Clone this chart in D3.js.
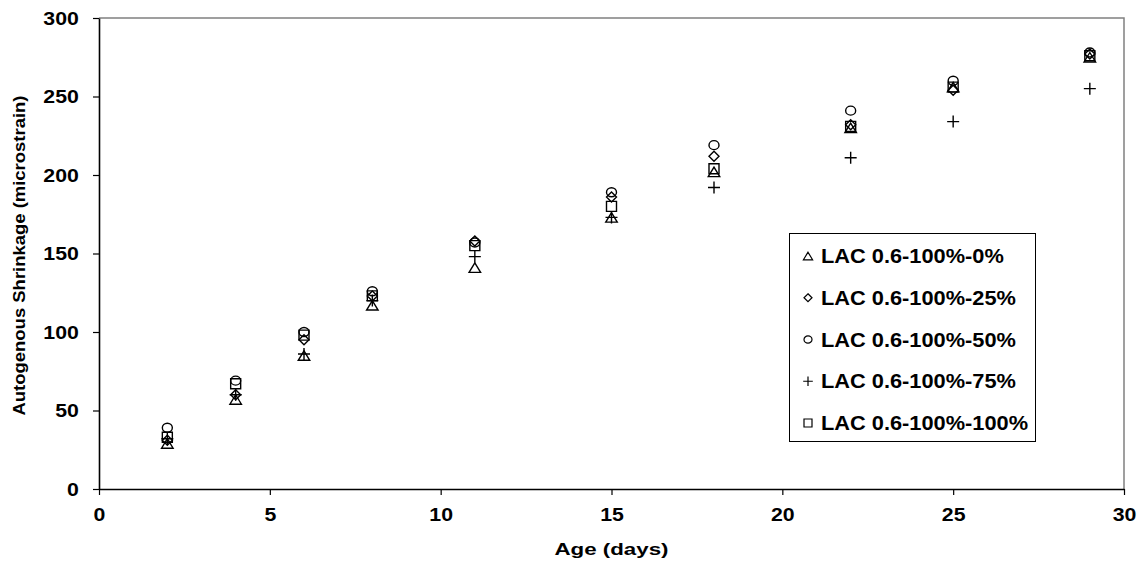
<!DOCTYPE html>
<html>
<head>
<meta charset="utf-8">
<script src="https://cdn.jsdelivr.net/npm/d3@7"></script>
<style>
  html, body { margin: 0; padding: 0; background: #fff; }
  svg { display: block; font-family: "Liberation Sans", Arial, sans-serif; }
</style>
</head>
<body>
<svg id="chart" width="1140" height="562"></svg>
<script>
const days = [2, 4, 6, 8, 11, 15, 18, 22, 25, 29];
const lac0   = [29, 57, 85, 117, 141, 173, 202, 230, 256, 275];
const lac25  = [31, 60, 95, 123, 158, 186, 212, 232, 254, 277];
const lac50  = [39, 69, 100, 126, 157, 189, 219, 241, 260, 278];
const lac75  = [32, 60, 86, 120, 148, 173, 192, 211, 234, 255];
const lac100 = [33, 67, 98, 123, 155, 180, 204, 231, 256, 276];
const seriesNames = ["LAC 0.6-100%-0%", "LAC 0.6-100%-25%", "LAC 0.6-100%-50%", "LAC 0.6-100%-75%", "LAC 0.6-100%-100%"];
const seriesShapes = ["triangle", "diamond", "circle", "plus", "square"];
const xTicks = [0, 5, 10, 15, 20, 25, 30];
const yTicks = [0, 50, 100, 150, 200, 250, 300];
const xTitle = "Age (days)";
const yTitle = "Autogenous Shrinkage (microstrain)";

(function () {
const seriesValues = [lac0, lac25, lac50, lac75, lac100];
const series = seriesNames.map((name, i) => ({
  name, shape: seriesShapes[i],
  points: days.map((d, j) => ({ x: d, y: seriesValues[i][j] }))
}));

const svg = d3.select("#chart");
const pLeft = 99, pRight = 1124, pTop = 18, pBottom = 489;
const x = d3.scaleLinear().domain([0, 30]).range([pLeft, pRight]);
const y = d3.scaleLinear().domain([0, 300]).range([pBottom, pTop]);

// plot border (top and right)
svg.append("path")
  .attr("d", `M${pLeft},${pTop}H${pRight}V${pBottom}`)
  .attr("fill", "none").attr("stroke", "#808080").attr("stroke-width", 1.5);

// axes
const xAxis = svg.append("g").attr("transform", `translate(0,${pBottom})`)
  .call(d3.axisBottom(x).tickValues(xTicks).tickSize(6).tickSizeOuter(0).tickPadding(13));
const yAxis = svg.append("g").attr("transform", `translate(${pLeft},0)`)
  .call(d3.axisLeft(y).tickValues(yTicks).tickSize(6).tickSizeOuter(0).tickPadding(12));

[xAxis, yAxis].forEach(a => {
  a.select(".domain").attr("stroke", "#000").attr("stroke-width", 1.6);
  a.selectAll(".tick line").attr("stroke", "#000").attr("stroke-width", 1.2);
  a.selectAll("text").attr("fill", "#000").attr("font-size", 19).attr("font-weight", "bold")
    .attr("font-family", "'Liberation Sans', Arial, sans-serif");
});
xAxis.selectAll("text").attr("transform", "scale(1.12,1)");
yAxis.selectAll("text").attr("transform", "scale(1.12,1)");

// titles
svg.append("text")
  .attr("x", (pLeft + pRight) / 2).attr("y", 555)
  .attr("text-anchor", "middle").attr("font-size", 17).attr("font-weight", "bold")
  .attr("textLength", 114).attr("lengthAdjust", "spacingAndGlyphs")
  .text(xTitle);
svg.append("text")
  .attr("transform", `translate(25,${(pTop + pBottom) / 2 + 2}) rotate(-90)`)
  .attr("text-anchor", "middle").attr("font-size", 16).attr("font-weight", "bold")
  .attr("textLength", 320).attr("lengthAdjust", "spacingAndGlyphs")
  .text(yTitle);

function markerPath(shape, s) {
  const h = s / 2;
  switch (shape) {
    case "triangle": return `M0,${-h * 0.95}L${h * 1.15},${h * 0.95}L${-h * 1.15},${h * 0.95}Z`;
    case "diamond": return `M0,${-h}L${h},0L0,${h}L${-h},0Z`;
    case "square": return `M${-h},${-h}H${h}V${h}H${-h}Z`;
    case "plus": return `M${-h * 1.2},0H${h * 1.2}M0,${-h * 1.2}V${h * 1.2}`;
    case "circle": return `M${-h},0A${h},${h * 0.9} 0 1,0 ${h},0A${h},${h * 0.9} 0 1,0 ${-h},0Z`;
  }
}

const plot = svg.append("g");
series.forEach(s => {
  plot.append("g").selectAll("path").data(s.points).join("path")
    .attr("transform", d => `translate(${x(d.x)},${y(d.y)})`)
    .attr("d", markerPath(s.shape, 10))
    .attr("fill", "none").attr("stroke", "#000").attr("stroke-width", 1.4);
});

// legend
const lg = svg.append("g");
lg.append("rect").attr("x", 789.5).attr("y", 233.5).attr("width", 246).attr("height", 208)
  .attr("fill", "#fff").attr("stroke", "#000").attr("stroke-width", 1);
const rowY = d3.scaleLinear().domain([0, 4]).range([256, 423]);
series.forEach((s, i) => {
  const g = lg.append("g").attr("transform", `translate(0,${rowY(i)})`);
  g.append("path").attr("transform", "translate(808,0)")
    .attr("d", markerPath(s.shape, 8))
    .attr("fill", "none").attr("stroke", "#000").attr("stroke-width", 1.2);
  g.append("text").attr("x", 0).attr("y", 0).attr("dy", "0.36em")
    .attr("transform", "translate(821,0) scale(1.09,1)")
    .attr("font-size", 20).attr("font-weight", "bold").attr("fill", "#000")
    .text(s.name);
});
})();
</script>
</body>
</html>
